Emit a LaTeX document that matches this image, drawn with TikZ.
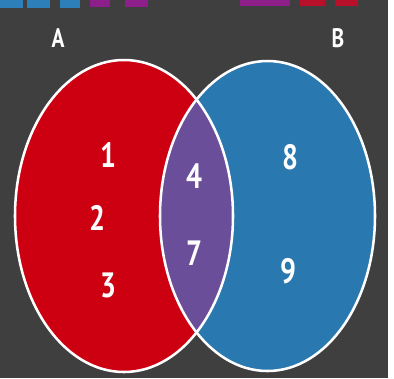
\documentclass[tikz,border=0pt]{standalone}
\usepackage{fontspec}
\setmainfont{PT Sans}
\newfontfamily\narrowfont[FakeStretch=0.8]{PT Sans}
\usepackage{xcolor}
\usepackage{tikz}

\definecolor{bgdark}{HTML}{3F3F3F}
\definecolor{setred}{HTML}{CC0011}
\definecolor{setblue}{HTML}{2A78B0}
\definecolor{setboth}{HTML}{6A4E9A}
\definecolor{barblue}{HTML}{2C7FB8}
\definecolor{barmag}{HTML}{8E1F8A}
\definecolor{barred}{HTML}{B8102A}

\begin{document}
\begin{tikzpicture}[
    x=0.025cm, y=-0.025cm,
    rim/.style={draw=white, line width=1.8pt},
    setlabel/.style={text=white, font=\narrowfont\fontsize{19}{22}\selectfont\bfseries, inner sep=0pt},
    member/.style={text=white, font=\narrowfont\fontsize{25}{28}\selectfont\bfseries, inner sep=0pt}
]
    \useasboundingbox (0,0) rectangle (394,378);

    % Background
    \fill[bgdark] (0,0) rectangle (388,378);

    % Top Bars
    \fill[barblue] (0,0) rectangle (23,8);
    \fill[barblue] (27,0) rectangle (50,8);
    \fill[barblue] (60,0) rectangle (80,8);
    \fill[barmag] (90,0) rectangle (110,7);
    \fill[barmag] (125,0) rectangle (148,7);
    \fill[barmag] (240,0) rectangle (290,6);
    \fill[barred] (300,0) rectangle (325,6);
    \fill[barred] (335,0) rectangle (358,6);

    % Sets
    \fill[setred] (124,216) ellipse [x radius=109, y radius=156];
    \fill[setblue] (267.5,216) ellipse [x radius=107.5, y radius=155];
    \begin{scope}
        \clip (124,216) ellipse [x radius=109, y radius=156];
        \fill[setboth] (267.5,216) ellipse [x radius=107.5, y radius=155];
    \end{scope}
    \draw[rim] (124,216) ellipse [x radius=109, y radius=156];
    \draw[rim] (267.5,216) ellipse [x radius=107.5, y radius=155];

    % Labels
    \node[setlabel] (labA) at (58,38) {A};
    \node[setlabel] (labB) at (338,38) {B};

    % Members
    \node[member] (one) at (108,155) {1};
    \node[member] (two) at (97,218) {2};
    \node[member] (three) at (108,285) {3};
    \node[member] (four) at (194,176) {4};
    \node[member] (seven) at (194,253) {7};
    \node[member] (eight) at (290,157) {8};
    \node[member] (nine) at (288,271) {9};

\end{tikzpicture}
\end{document}
